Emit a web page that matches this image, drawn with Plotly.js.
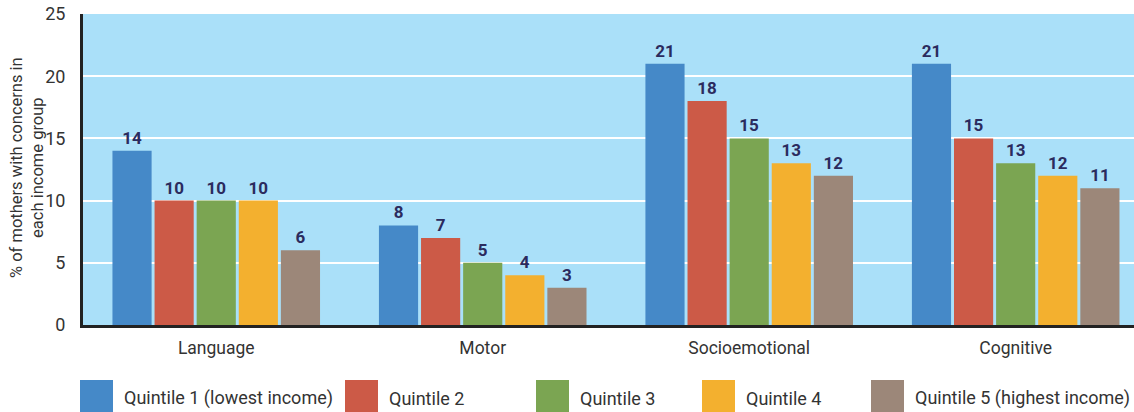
<!DOCTYPE html>
<html><head><meta charset="utf-8">
<script src="https://cdn.plot.ly/plotly-3.0.1.min.js"></script>
<style>html,body{margin:0;padding:0;background:#fff;}#chart{width:1134px;height:412px;}</style>
</head><body><div id="chart"></div>
<script>
const categories = ["Language", "Motor", "Socioemotional", "Cognitive"];
const seriesNames = ["Quintile 1 (lowest income)", "Quintile 2", "Quintile 3", "Quintile 4", "Quintile 5 (highest income)"];
const q1 = [14, 8, 21, 21];
const q2 = [10, 7, 18, 15];
const q3 = [10, 5, 15, 13];
const q4 = [10, 4, 13, 12];
const q5 = [6, 3, 12, 11];
const yTicks = [0, 5, 10, 15, 20, 25];
const colors = ["#4589c8", "#cc5a47", "#7ba552", "#f3b02f", "#9c8779"];

const W = 1134, H = 412, ML = 83, MR = 0, MT = 14, MB = 87;
const PW = W - ML - MR, PH = H - MT - MB;
const px2x = p => (p - ML) / PW;
const px2y = p => (H - MB - p) / PH;

const values = [q1, q2, q3, q4, q5];
const font = "Roboto, 'DejaVu Sans', sans-serif";
const traces = values.map((v, i) => ({
  type: "bar", x: categories, y: v, name: seriesNames[i],
  marker: {color: colors[i]},
  text: v.map(String), textposition: "outside", cliponaxis: false,
  textfont: {family: font, size: 17, color: "#2b2b5e", weight: 700},
  showlegend: false, hoverinfo: "skip"
}));

const legendSquares = [80, 345, 536, 702, 871];
const shapes = [], annotations = [];
legendSquares.forEach((sx, i) => {
  shapes.push({type: "rect", xref: "paper", yref: "paper",
    x0: px2x(sx), x1: px2x(sx + 33), y0: px2y(412), y1: px2y(380),
    fillcolor: colors[i], line: {width: 0}});
  annotations.push({xref: "paper", yref: "paper", x: px2x(sx + 42), y: px2y(398),
    xanchor: "left", yanchor: "middle", text: seriesNames[i], showarrow: false,
    font: {family: font, size: 18, color: "#333"}});
});
annotations.push({xref: "paper", yref: "paper", x: px2x(27), y: px2y(168),
  xanchor: "center", yanchor: "middle", textangle: -90, showarrow: false,
  text: "% of mothers with concerns in<br>each income group",
  font: {family: font, size: 16.5, color: "#333"}});

const layout = {
  width: W, height: H,
  margin: {l: ML, r: MR, t: MT, b: MB, pad: 0},
  paper_bgcolor: "#ffffff", plot_bgcolor: "#aae0f9",
  barmode: "group", bargap: 0.21, bargroupgap: 0.07,
  font: {family: font, color: "#333"},
  xaxis: {type: "category", range: [-0.5, 3.444], showgrid: false,
    showline: true, linecolor: "#222", linewidth: 3,
    ticks: "outside", ticklen: 5, tickcolor: "rgba(0,0,0,0)",
    tickfont: {family: font, size: 17.5, color: "#333"}, fixedrange: true},
  yaxis: {range: [0, 25], tickvals: yTicks, ticktext: yTicks.map(String),
    showgrid: true, gridcolor: "#ffffff", gridwidth: 2, zeroline: false,
    showline: true, linecolor: "#222", linewidth: 3,
    ticks: "outside", ticklen: 11, tickcolor: "rgba(0,0,0,0)",
    tickfont: {family: font, size: 18, color: "#333"}, fixedrange: true},
  shapes: shapes, annotations: annotations, showlegend: false
};
Plotly.newPlot("chart", traces, layout, {staticPlot: true, displayModeBar: false});
</script></body></html>
